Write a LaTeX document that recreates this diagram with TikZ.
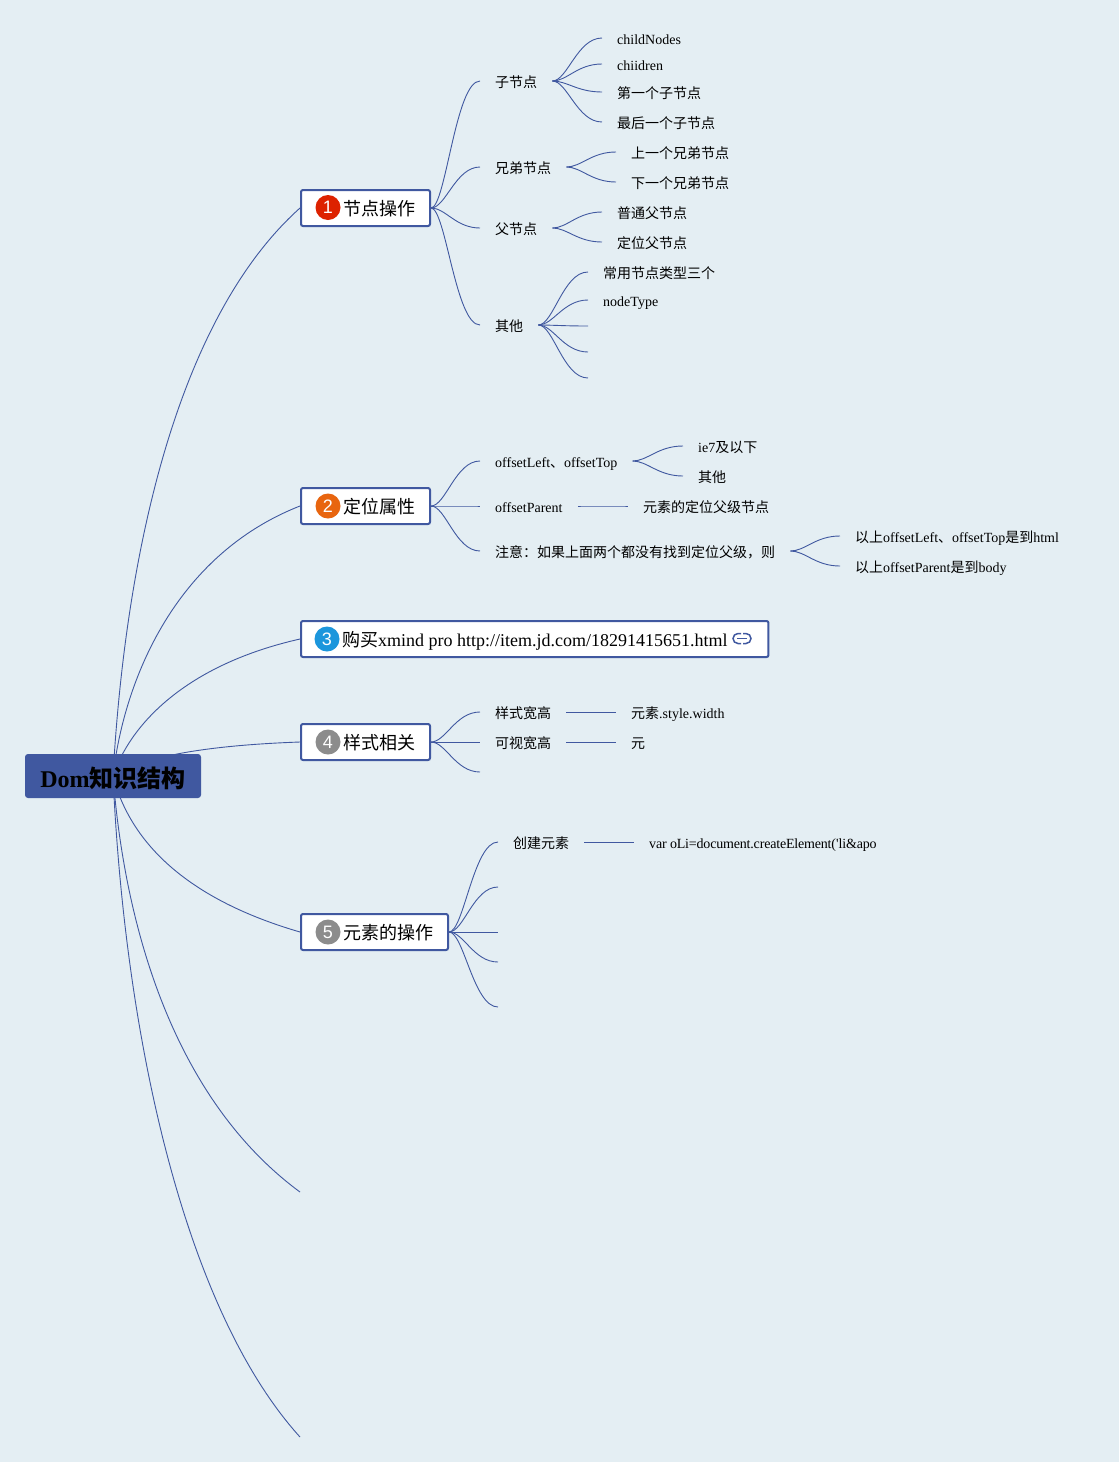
\documentclass[tikz,border=0pt]{standalone}
\usepackage{fontspec}
\usetikzlibrary{calc,backgrounds}
\setmainfont{Liberation Serif}
\newfontfamily\cjkfont{Noto Sans CJK SC}
\newfontfamily\numfont{Liberation Sans}
\newcommand{\zh}[1]{{\cjkfont #1}}
\definecolor{mapbg}{RGB}{228,238,243}
\definecolor{mapblue}{RGB}{64,88,160}
\definecolor{numred}{RGB}{221,34,0}
\definecolor{numorange}{RGB}{232,101,15}
\definecolor{numblue}{RGB}{28,150,220}
\definecolor{numgray}{RGB}{140,140,140}
\tikzset{
  rootbox/.style={fill=mapblue,rounded corners=3pt,minimum width=176pt,minimum height=44pt,inner sep=0pt,text height=22pt,text depth=0pt,font=\fontsize{24}{28}\selectfont\bfseries},
  mainbox/.style={draw=mapblue,line width=2pt,fill=white,rounded corners=2pt,minimum height=36pt,inner xsep=15pt,inner ysep=0pt,text height=15pt,text depth=0pt,anchor=west,font=\fontsize{18}{22}\selectfont},
  numdot/.style={circle,fill=#1,text=white,minimum size=25pt,inner sep=0pt,font=\fontsize{18}{20}\selectfont\numfont},
  topic/.style={anchor=west,inner xsep=15pt,inner ysep=0pt,text height=12pt,text depth=0pt,font=\fontsize{14}{16}\selectfont},
  branch/.style={draw=mapblue,line width=0.9pt,to path={let \p1=(\tikztostart),\p2=(\tikztotarget) in .. controls ({\x1+0.3*(\x2-\x1)},\y1) and ({\x1+0.5*(\x2-\x1)},\y2) .. (\tikztotarget)}},
  rootline/.style={draw=mapblue,line width=0.9pt},
  linkmark/.style={draw=mapblue,line width=1.5pt},
}
\begin{document}
\begin{tikzpicture}[x=1pt,y=-1pt]
\useasboundingbox (0,0) rectangle (1119,1462);

% Root and main boxes
\node[rootbox] (root) at (113,776) {Dom\zh{知识结构}};
\node[mainbox] (nodeops) at (300,208) {\hspace*{27pt}\zh{节点操作}};
\node[mainbox] (posattr) at (300,506) {\hspace*{27pt}\zh{定位属性}};
\node[mainbox] (buylink) at (300,639) {\hspace*{26pt}\zh{购买}xmind pro http://item.jd.com/18291415651.html\hspace*{26pt}};
\node[mainbox] (styleattr) at (300,742) {\hspace*{27pt}\zh{样式相关}};
\node[mainbox] (elemops) at (300,932) {\hspace*{27pt}\zh{元素的操作}};
\coordinate (endsix) at (300,1192);
\coordinate (endseven) at (300,1437);

% Number marks
\node[numdot=numred] (numone) at (328,207.5) {1};
\node[numdot=numorange] (numtwo) at (328,506) {2};
\node[numdot=numblue] (numthree) at (327,639) {3};
\node[numdot=numgray] (numfour) at (328,742) {4};
\node[numdot=numgray] (numfive) at (328,932) {5};

% Link mark
\draw[linkmark] (741,633.5) -- (738,633.5) arc (270:90:5) -- (741,643.5);
\draw[linkmark] (743,633.5) -- (746,633.5) arc (-90:90:5) -- (743,643.5);
\draw[linkmark] (737,638.5) -- (747,638.5);

% Node operations
\node[topic] (childnode) at (480,81) {\zh{子节点}};
\node[topic] (sibling) at (480,167) {\zh{兄弟节点}};
\node[topic] (parentnode) at (480,228) {\zh{父节点}};
\node[topic] (othernode) at (480,325) {\zh{其他}};
\node[topic] (cnone) at (602,38) {childNodes};
\node[topic] (cntwo) at (602,64) {chiidren};
\node[topic] (cnthree) at (602,92) {\zh{第一个子节点}};
\node[topic] (cnfour) at (602,122) {\zh{最后一个子节点}};
\node[topic] (sbone) at (616,152) {\zh{上一个兄弟节点}};
\node[topic] (sbtwo) at (616,182) {\zh{下一个兄弟节点}};
\node[topic] (ptone) at (602,212) {\zh{普通父节点}};
\node[topic] (pttwo) at (602,242) {\zh{定位父节点}};
\node[topic] (otone) at (588,272) {\zh{常用节点类型三个}};
\node[topic] (ottwo) at (588,300) {nodeType};
\coordinate (otthree) at (588,326);
\coordinate (otfour) at (588,352);
\coordinate (otfive) at (588,378);

% Position attributes
\node[topic] (offleft) at (480,461) {offsetLeft\zh{、}offsetTop};
\node[topic] (offparent) at (480,506) {offsetParent};
\node[topic] (offnote) at (480,551) {\zh{注意：如果上面两个都没有找到定位父级，则}};
\node[topic] (olone) at (683,446) {ie7\zh{及以下}};
\node[topic] (oltwo) at (683,476) {\zh{其他}};
\node[topic] (opone) at (628,506) {\zh{元素的定位父级节点}};
\node[topic] (onone) at (840,536) {\zh{以上}offsetLeft\zh{、}offsetTop\zh{是到}html};
\node[topic] (ontwo) at (840,566) {\zh{以上}offsetParent\zh{是到}body};

% Style attributes
\node[topic] (stwidth) at (480,712) {\zh{样式宽高}};
\node[topic] (stview) at (480,742) {\zh{可视宽高}};
\coordinate (stthree) at (480,772);
\node[topic] (swone) at (616,712) {\zh{元素}.style.width};
\node[topic] (svone) at (616,742) {\zh{元}};

% Element operations
\node[topic] (elcreate) at (498,842) {\zh{创建元素}};
\coordinate (eltwo) at (498,887);
\coordinate (elthree) at (498,932);
\coordinate (elfour) at (498,962);
\coordinate (elfive) at (498,1007);
\node[topic] (econe) at (634,842) {\addfontfeature{LetterSpace=-1.3}var oLi=document.createElement(\textquotesingle li\&apo};

% Connectors
\begin{scope}[on background layer]
\fill[mapbg] (0,0) rectangle (1119,1462);
\draw[rootline] (root.center) .. controls (125,560) and (175,320) .. (nodeops.west);
\draw[rootline] (root.center) .. controls (124,680) and (175,555) .. (posattr.west);
\draw[rootline] (root.center) .. controls (130,725) and (185,665) .. (buylink.west);
\draw[rootline] (root.center) .. controls (145,755) and (215,745) .. (styleattr.west);
\draw[rootline] (root.center) .. controls (131,845) and (190,900) .. (elemops.west);
\draw[rootline] (root.center) .. controls (125,930) and (175,1100) .. (endsix);
\draw[rootline] (root.center) .. controls (125,1040) and (185,1310) .. (endseven);
\foreach \kid in {childnode,sibling,parentnode,othernode}
  \draw[branch] (nodeops.east) to (\kid.west);
\foreach \kid in {cnone,cntwo,cnthree,cnfour}
  \draw[branch] (childnode.east) to (\kid.west);
\foreach \kid in {sbone,sbtwo}
  \draw[branch] (sibling.east) to (\kid.west);
\foreach \kid in {ptone,pttwo}
  \draw[branch] (parentnode.east) to (\kid.west);
\foreach \kid in {otone.west,ottwo.west,otthree,otfour,otfive}
  \draw[branch] (othernode.east) to (\kid);
\foreach \kid in {offleft,offparent,offnote}
  \draw[branch] (posattr.east) to (\kid.west);
\foreach \kid in {olone,oltwo}
  \draw[branch] (offleft.east) to (\kid.west);
\draw[branch] (offparent.east) to (opone.west);
\foreach \kid in {onone,ontwo}
  \draw[branch] (offnote.east) to (\kid.west);
\foreach \kid in {stwidth.west,stview.west,stthree}
  \draw[branch] (styleattr.east) to (\kid);
\draw[branch] (stwidth.east) to (swone.west);
\draw[branch] (stview.east) to (svone.west);
\foreach \kid in {elcreate.west,eltwo,elthree,elfour,elfive}
  \draw[branch] (elemops.east) to (\kid);
\draw[branch] (elcreate.east) to (econe.west);
\end{scope}
\end{tikzpicture}
\end{document}
